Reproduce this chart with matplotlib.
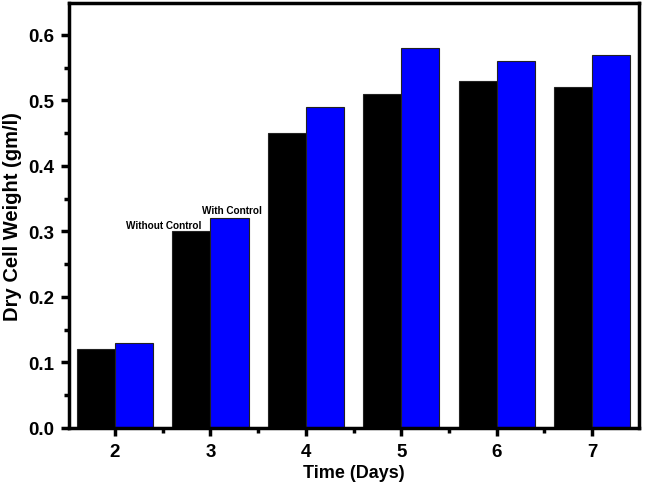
import matplotlib.pyplot as plt
import numpy as np
from matplotlib.ticker import MultipleLocator

# Data
days = [2, 3, 4, 5, 6, 7]
without_control = [0.12, 0.30, 0.45, 0.51, 0.53, 0.52]
with_control = [0.13, 0.32, 0.49, 0.58, 0.56, 0.57]

plt.rcParams["font.family"] = ["Liberation Sans", "DejaVu Sans"]
plt.rcParams["font.weight"] = "bold"

fig = plt.figure(figsize=(6.46, 4.85), dpi=100)
ax = fig.add_axes([0.107, 0.1155, 0.882, 0.8765])

x = np.array(days)
ax.bar(x - 0.2, without_control, width=0.4, color="black", edgecolor="#222222", linewidth=0.8)
ax.bar(x + 0.2, with_control, width=0.4, color="#0000FF", edgecolor="#222222", linewidth=0.8)

ax.text(2.51, 0.31, "Without Control", ha="center", va="center", fontsize=7.2, fontweight="bold")
ax.text(3.23, 0.333, "With Control", ha="center", va="center", fontsize=7.2, fontweight="bold")

ax.set_xlim(1.52, 7.49)
ax.set_ylim(0, 0.649)
ax.set_xticks(days)
ax.xaxis.set_minor_locator(MultipleLocator(0.5))
ax.yaxis.set_major_locator(MultipleLocator(0.1))
ax.yaxis.set_minor_locator(MultipleLocator(0.05))
ax.yaxis.set_major_formatter(plt.FormatStrFormatter("%.1f"))

for s in ax.spines.values():
    s.set_linewidth(2.5)
ax.tick_params(which="major", direction="out", length=6, width=2.5, labelsize=13.5)
ax.tick_params(axis="y", which="major", pad=5)
ax.tick_params(axis="x", which="major", pad=5)
ax.tick_params(which="minor", direction="out", length=3.5, width=2.5)
for lab in ax.get_xticklabels() + ax.get_yticklabels():
    lab.set_fontweight("bold")

ax.set_xlabel("Time (Days)", fontsize=13, fontweight="bold", labelpad=3)
ax.set_ylabel("Dry Cell Weight (gm/l)", fontsize=14.5, fontweight="bold", labelpad=4)

fig.savefig("out.png", dpi=100)
